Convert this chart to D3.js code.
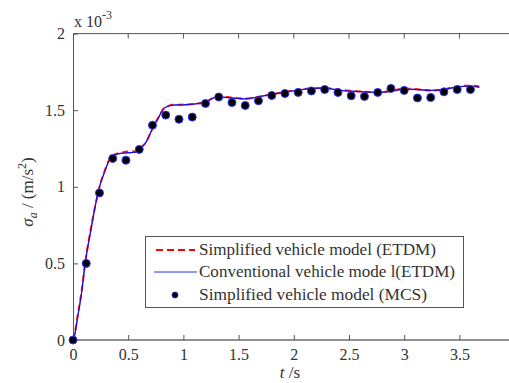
<!DOCTYPE html>
<html><head><meta charset="utf-8">
<script src="https://cdn.jsdelivr.net/npm/d3@7"></script>
</head><body style="margin:0">
<svg id="c" width="509" height="383"></svg>
<script>
// ---- data (values in units of 1e-3 m/s^2) ----
const xTicks = [0, 0.5, 1, 1.5, 2, 2.5, 3, 3.5];
const xTickLabels = ["0", "0.5", "1", "1.5", "2", "2.5", "3", "3.5"];
const yTicks = [0, 0.5, 1, 1.5, 2];
const yTickLabels = ["0", "0.5", "1", "1.5", "2"];

const etdmT = [0, 0.02, 0.04, 0.08, 0.11, 0.16, 0.20, 0.24, 0.28, 0.32, 0.36, 0.43, 0.50, 0.57, 0.62, 0.66, 0.72, 0.78, 0.815, 0.86, 0.90, 1.0, 1.09, 1.2, 1.31, 1.44, 1.56, 1.68, 1.80, 1.92, 2.04, 2.16, 2.28, 2.40, 2.52, 2.64, 2.76, 2.88, 3.0, 3.12, 3.24, 3.36, 3.48, 3.60, 3.68];
const simpETDM = [0, 0.06, 0.15, 0.33, 0.50, 0.72, 0.87, 1.0, 1.09, 1.165, 1.205, 1.222, 1.230, 1.232, 1.26, 1.29, 1.38, 1.46, 1.505, 1.527, 1.535, 1.537, 1.540, 1.555, 1.590, 1.582, 1.576, 1.588, 1.604, 1.620, 1.633, 1.643, 1.645, 1.634, 1.627, 1.620, 1.617, 1.626, 1.640, 1.637, 1.628, 1.635, 1.655, 1.660, 1.655];
const convETDM = [0, 0.05, 0.14, 0.32, 0.50, 0.71, 0.87, 1.0, 1.085, 1.16, 1.20, 1.218, 1.222, 1.226, 1.255, 1.29, 1.38, 1.46, 1.505, 1.525, 1.533, 1.535, 1.539, 1.555, 1.587, 1.580, 1.574, 1.587, 1.603, 1.618, 1.631, 1.642, 1.644, 1.631, 1.624, 1.620, 1.616, 1.624, 1.637, 1.635, 1.629, 1.635, 1.652, 1.657, 1.650];

const mcsT = [0, 0.12, 0.24, 0.36, 0.48, 0.60, 0.72, 0.84, 0.96, 1.08, 1.20, 1.32, 1.44, 1.56, 1.68, 1.80, 1.92, 2.04, 2.16, 2.28, 2.40, 2.52, 2.64, 2.76, 2.88, 3.00, 3.12, 3.24, 3.36, 3.48, 3.60];
const mcsVal = [0, 0.50, 0.96, 1.185, 1.174, 1.244, 1.402, 1.468, 1.441, 1.455, 1.544, 1.586, 1.550, 1.531, 1.561, 1.596, 1.609, 1.616, 1.626, 1.635, 1.616, 1.594, 1.590, 1.616, 1.642, 1.629, 1.580, 1.583, 1.620, 1.635, 1.635];

const legendLabels = ["Simplified vehicle model (ETDM)", "Conventional vehicle mode l(ETDM)", "Simplified vehicle model (MCS)"];

// ---- drawing ----
const FONT = "Liberation Serif";
const svg = d3.select("#c");
const x = d3.scaleLinear().domain([0, 4]).range([73, 514.6]);
const y = d3.scaleLinear().domain([0, 2]).range([340, 33.6]);
const axisCol = "#555";

function txt(sel, size) {
  return sel.style("font-family", `"${FONT}"`).style("font-size", size + "px").attr("fill", "#333");
}

svg.append("line").attr("x1", x(0)).attr("x2", 509).attr("y1", y(2)).attr("y2", y(2)).attr("stroke", axisCol);
svg.selectAll(".tt").data(xTicks.slice(1)).enter().append("line")
  .attr("x1", d => x(d)).attr("x2", d => x(d)).attr("y1", y(2)).attr("y2", y(2) + 5)
  .attr("stroke", axisCol);

const gx = svg.append("g").attr("transform", `translate(0,${y(0)})`)
  .call(d3.axisBottom(x).tickValues(xTicks).tickFormat((d, i) => xTickLabels[i]).tickSizeInner(-5).tickSizeOuter(0).tickPadding(9));
gx.attr("font-family", null).attr("font-size", null);
gx.select(".domain").attr("d", `M${x(0)},0H509`).attr("stroke", "#222");
gx.selectAll("line").attr("stroke", axisCol);
txt(gx.selectAll("text"), 16);

const gy = svg.append("g").attr("transform", `translate(${x(0)},0)`)
  .call(d3.axisLeft(y).tickValues(yTicks).tickFormat((d, i) => yTickLabels[i]).tickSizeInner(-5).tickSizeOuter(0).tickPadding(8));
gy.attr("font-family", null).attr("font-size", null);
gy.select(".domain").attr("stroke", axisCol);
gy.selectAll("line").attr("stroke", axisCol);
txt(gy.selectAll("text"), 16);

const mult = txt(svg.append("text").attr("x", 74).attr("y", 27), 16);
mult.append("tspan").text("x 10");
mult.append("tspan").attr("dy", -8).style("font-size", "12px").text("-3");

const lineGen = (ts) => d3.line().x((d, i) => x(ts[i])).y(d => y(d)).curve(d3.curveMonotoneX);
svg.append("path").datum(convETDM).attr("d", lineGen(etdmT)).attr("fill", "none").attr("stroke", "#2b2bff").attr("stroke-width", 1.3);
svg.append("path").datum(simpETDM).attr("d", lineGen(etdmT)).attr("fill", "none").attr("stroke", "#ff0000").attr("stroke-width", 2).attr("stroke-dasharray", "6,4").attr("opacity", 0.9);
svg.append("path").datum(convETDM).attr("d", lineGen(etdmT)).attr("fill", "none").attr("stroke", "#0000ff").attr("stroke-width", 1).attr("opacity", 0.8);

svg.selectAll(".mcs").data(mcsVal).enter().append("circle")
  .attr("cx", (d, i) => x(mcsT[i])).attr("cy", d => y(d)).attr("r", 4)
  .attr("fill", "#000").attr("stroke", "#3333ff").attr("stroke-width", 1);

const xt = txt(svg.append("text").attr("x", 290).attr("y", 378).attr("text-anchor", "middle"), 17);
xt.append("tspan").style("font-style", "italic").text("t");
xt.append("tspan").text(" /s");

const yt = txt(svg.append("text").attr("transform", "translate(33,192) rotate(-90)").attr("text-anchor", "middle"), 17);
yt.append("tspan").style("font-style", "italic").text("σ");
yt.append("tspan").style("font-style", "italic").style("font-size", "12px").attr("dy", 4).text("a");
yt.append("tspan").attr("dy", -4).text(" / (m/s");
yt.append("tspan").attr("dy", -7).style("font-size", "12px").text("2");
yt.append("tspan").attr("dy", 7).text(")");

svg.append("rect").attr("x", 145.5).attr("y", 236.5).attr("width", 318).attr("height", 71).attr("fill", "#fff").attr("stroke", "#555");
const rowsY = [250, 272, 295];
const textLens = [237, 256, 228];
svg.append("line").attr("x1", 156).attr("x2", 195).attr("y1", rowsY[0]).attr("y2", rowsY[0]).attr("stroke", "#ff0000").attr("stroke-width", 2).attr("stroke-dasharray", "7,4");
svg.append("line").attr("x1", 154).attr("x2", 197).attr("y1", rowsY[1]).attr("y2", rowsY[1]).attr("stroke", "#2b2bff").attr("stroke-width", 1);
svg.append("circle").attr("cx", 175).attr("cy", rowsY[2]).attr("r", 3).attr("fill", "#000").attr("stroke", "#2222cc").attr("stroke-width", 0.8);
legendLabels.forEach((d, i) => {
  txt(svg.append("text").attr("x", 199).attr("y", rowsY[i] + 5), 16)
    .attr("textLength", textLens[i]).attr("lengthAdjust", "spacingAndGlyphs").text(d);
});
</script>
</body></html>
